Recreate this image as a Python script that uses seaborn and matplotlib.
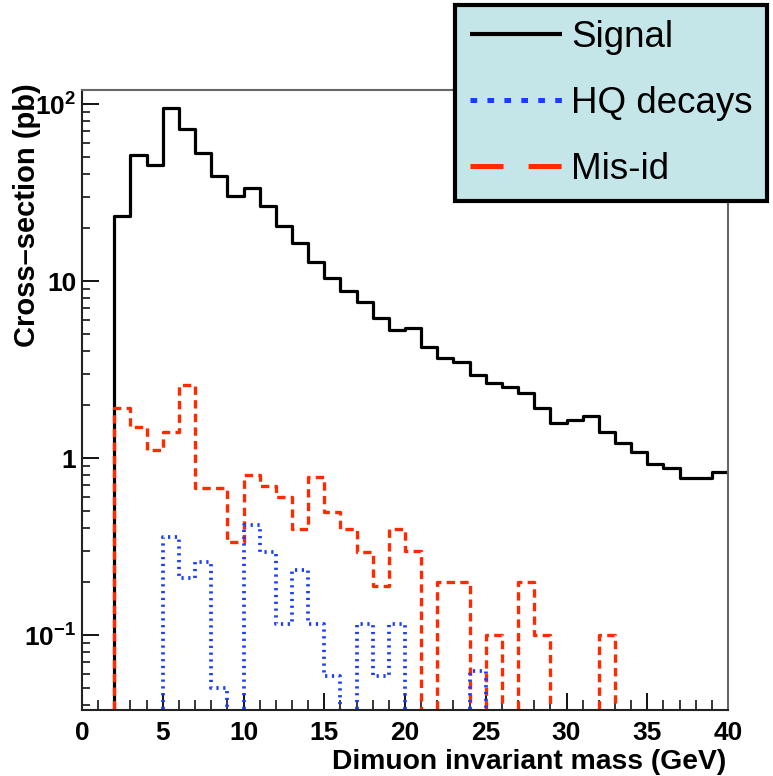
import numpy as np
import pandas as pd
import matplotlib
matplotlib.use("Agg")
import matplotlib.pyplot as plt
import seaborn as sns
from matplotlib.lines import Line2D
from matplotlib.ticker import FixedLocator, LogLocator, MultipleLocator, NullFormatter

# ---------------- data ----------------
bin_edges = list(range(0, 41))
signal = [0, 0, 23.3, 51.5, 45.2, 94.6, 72.3, 53.0, 39.2, 30.2,
          33.4, 26.5, 20.5, 16.5, 12.8, 10.4, 8.8, 7.6, 6.16, 5.29,
          5.4, 4.26, 3.66, 3.5, 2.94, 2.64, 2.53, 2.32, 1.91, 1.57,
          1.65, 1.73, 1.40, 1.21, 1.08, 0.92, 0.875, 0.774, 0.774, 0.837]
hq_decays = [0, 0, 0, 0, 0, 0.36, 0.209, 0.26, 0.050, 0,
             0.418, 0.296, 0.116, 0.233, 0.116, 0.059, 0, 0.116, 0.059, 0.116,
             0, 0, 0, 0, 0.063, 0, 0, 0, 0, 0,
             0, 0, 0, 0, 0, 0, 0, 0, 0, 0]
mis_id = [0, 0, 1.91, 1.50, 1.11, 1.41, 2.58, 0.674, 0.674, 0.337,
          0.80, 0.695, 0.60, 0.397, 0.778, 0.497, 0.397, 0.296, 0.19, 0.397,
          0.30, 0, 0.2, 0.2, 0, 0.1, 0, 0.2, 0.1, 0,
          0, 0, 0.1, 0, 0, 0, 0, 0, 0, 0]
series_labels = ["Signal", "HQ decays", "Mis-id"]
x_ticks = [0, 5, 10, 15, 20, 25, 30, 35, 40]
y_ticks = [0.1, 1, 10, 100]
y_tick_labels = ["$10^{-1}$", "1", "10", "$10^{2}$"]
x_label = "Dimuon invariant mass (GeV)"
y_label = "Cross\u2013section (pb)"

# ---------------- style ----------------
plt.rcParams['font.family'] = ['Liberation Sans', 'DejaVu Sans']
plt.rcParams['mathtext.fontset'] = 'custom'
plt.rcParams['mathtext.rm'] = 'Liberation Sans:bold'
plt.rcParams['mathtext.it'] = 'Liberation Sans:bold'
plt.rcParams['mathtext.bf'] = 'Liberation Sans:bold'
plt.rcParams['lines.scale_dashes'] = False

BLACK = "#000000"
BLUE = "#1a3cff"
RED = "#ff2a00"

W, H = 773, 776
fig = plt.figure(figsize=(W / 100, H / 100), dpi=100)
ax = fig.add_axes([82 / W, 1 - 710 / H, (728 - 82) / W, (710 - 90) / H])

centers = np.array(bin_edges[:-1], dtype=float) + 0.5
df = pd.DataFrame({"mass": centers, "Signal": signal,
                   "HQ decays": hq_decays, "Mis-id": mis_id})

sns.histplot(data=df, x="mass", weights="Signal", bins=bin_edges,
             element="step", fill=False, color=BLACK, linewidth=2.3, ax=ax)
sns.histplot(data=df, x="mass", weights="Mis-id", bins=bin_edges,
             element="step", fill=False, color=RED, linewidth=2.4,
             dashes=(6.0, 3.8), ax=ax)
sns.histplot(data=df, x="mass", weights="HQ decays", bins=bin_edges,
             element="step", fill=False, color=BLUE, linewidth=2.7,
             dashes=(1.6, 3.3), ax=ax)

ax.set_yscale('log')
ax.set_xlim(0, 40)
ax.set_ylim(0.0377, 120)

# ticks
ax.yaxis.set_major_locator(FixedLocator(y_ticks))
ax.set_yticklabels(y_tick_labels)
ax.yaxis.set_minor_locator(LogLocator(base=10, subs=np.arange(2, 10)))
ax.yaxis.set_minor_formatter(NullFormatter())
ax.xaxis.set_major_locator(FixedLocator(x_ticks))
ax.set_xticklabels([str(v) for v in x_ticks])
ax.xaxis.set_minor_locator(MultipleLocator(1))

ax.tick_params(axis='y', which='major', direction='in', length=12, width=1.3,
               labelsize=19, pad=4, right=False, left=True)
ax.tick_params(axis='y', which='minor', direction='in', length=6, width=1.1,
               right=False, left=True)
ax.tick_params(axis='x', which='major', direction='in', length=12, width=1.3,
               labelsize=19, pad=8, top=False, bottom=True)
ax.tick_params(axis='x', which='minor', direction='in', length=7, width=1.1,
               top=False, bottom=True)
for lbl in ax.get_xticklabels() + ax.get_yticklabels():
    lbl.set_fontweight('bold')

for side in ['left', 'bottom']:
    ax.spines[side].set_color('#222222')
    ax.spines[side].set_linewidth(1.5)
for side in ['top', 'right']:
    ax.spines[side].set_color('#666666')
    ax.spines[side].set_linewidth(1.5)

ax.set_xlabel(x_label, fontsize=20.3, fontweight='bold', ha='right')
ax.xaxis.set_label_coords(0.997, -0.063)
ax.set_ylabel(y_label, fontsize=21, fontweight='bold', ha='right')
ax.yaxis.set_label_coords(-0.064, 1.011)

# legend
handles = [Line2D([], [], color=BLACK, lw=3.0, solid_capstyle='butt'),
           Line2D([], [], color=BLUE, lw=3.6, dashes=(4.8, 7.4), dash_capstyle='butt'),
           Line2D([], [], color=RED, lw=3.6, dashes=(23.8, 18.0), dash_capstyle='butt')]
leg = fig.legend(handles, series_labels, loc='upper left',
                 bbox_to_anchor=(455 / W, 1 - 5 / H), borderaxespad=0,
                 prop={'family': 'Liberation Sans', 'size': 26.5},
                 frameon=True, fancybox=False, facecolor='#c5e6e8',
                 edgecolor='black', framealpha=1, handlelength=2.5,
                 handletextpad=0.25, labelspacing=0.84, borderpad=0.4)
leg.get_frame().set_linewidth(3)

fig.savefig("out.png", dpi=100)
